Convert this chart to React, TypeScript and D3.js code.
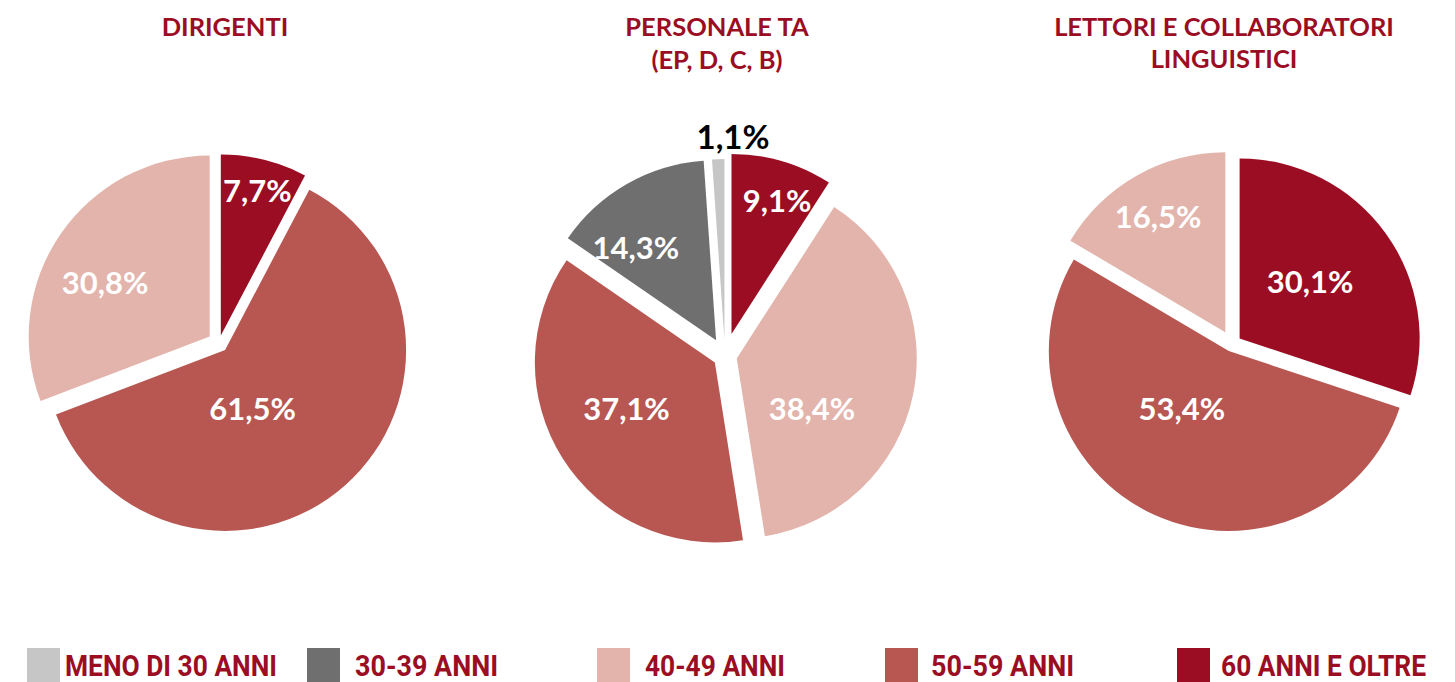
import React from "react";
import * as d3 from "d3";

// ---------- DATA ----------
const LEGEND_CATEGORIES = ["MENO DI 30 ANNI", "30-39 ANNI", "40-49 ANNI", "50-59 ANNI", "60 ANNI E OLTRE"];

const TITLES = [["DIRIGENTI"], ["PERSONALE TA", "(EP, D, C, B)"], ["LETTORI E COLLABORATORI", "LINGUISTICI"]];

const DIRIGENTI_CATS = ["60 ANNI E OLTRE", "50-59 ANNI", "40-49 ANNI"];
const DIRIGENTI_VALUES = [7.7, 61.5, 30.8];

const PERSONALE_CATS = ["60 ANNI E OLTRE", "40-49 ANNI", "50-59 ANNI", "30-39 ANNI", "MENO DI 30 ANNI"];
const PERSONALE_VALUES = [9.1, 38.4, 37.1, 14.3, 1.1];

const LETTORI_CATS = ["60 ANNI E OLTRE", "50-59 ANNI", "40-49 ANNI"];
const LETTORI_VALUES = [30.1, 53.4, 16.5];

// ---------- STYLE / LAYOUT ----------
const COLOR: Record<string, string> = {
  "MENO DI 30 ANNI": "#c6c6c6",
  "30-39 ANNI": "#6f6f6f",
  "40-49 ANNI": "#e2b4ac",
  "50-59 ANNI": "#b85752",
  "60 ANNI E OLTRE": "#9b0d23",
};
const TITLE_COLOR = "#9b0d23";
const W = 1455;
const H = 682;

const PIE_LAYOUT = [
  {
    cx: 219, cy: 343, r: 181,
    explode: [7.6, 9.2, 11.3],
    labels: [[157, 14.1], [74, 153], [129, 298]],
    titleX: 225, titleY: [36],
  },
  {
    cx: 725, cy: 356, r: 180,
    explode: [23, 12, 12, 18, 17],
    labels: [[164, 18.5], [102, 121.5], [112, 241.6], [140, 320.4], [219, 2.1]],
    titleX: 717, titleY: [36, 69],
  },
  {
    cx: 1232, cy: 344, r: 180,
    explode: [9.4, 7.7, 13.5],
    labels: [[100, 51.3], [82, 217.7], [147, 329.8]],
    titleX: 1224, titleY: [36, 68],
  },
];

const LEGEND_X = [27, 307, 597, 885, 1177];
const LEGEND_TEXT_X = [65, 355, 645, 931, 1221];
const LEGEND_TEXT_W = [212, 143, 140, 143, 205];

const PIE_DATA = [
  { cats: DIRIGENTI_CATS, values: DIRIGENTI_VALUES },
  { cats: PERSONALE_CATS, values: PERSONALE_VALUES },
  { cats: LETTORI_CATS, values: LETTORI_VALUES },
];

const fmt = (v: number) => v.toFixed(1).replace(".", ",") + "%";
const LABEL_FONT = "Lato, 'Open Sans', sans-serif";

function Pie({ idx }: { idx: number }) {
  const { cats, values } = PIE_DATA[idx];
  const L = PIE_LAYOUT[idx];
  const pie = d3.pie<number>().sort(null).value((d) => d);
  const arcs = pie(values);
  const arc = d3.arc<d3.PieArcDatum<number>>().innerRadius(0).outerRadius(L.r);
  const rad = Math.PI / 180;
  return (
    <g>
      {TITLES[idx].map((t, i) => (
        <text key={i} x={L.titleX} y={L.titleY[i]} textAnchor="middle" fill={TITLE_COLOR}
          fontFamily={LABEL_FONT} fontWeight={700} fontSize={25.5}>{t}</text>
      ))}
      {arcs.map((a, i) => {
        const mid = (a.startAngle + a.endAngle) / 2;
        const d = L.explode[i];
        const dx = L.cx + d * Math.sin(mid);
        const dy = L.cy - d * Math.cos(mid);
        return <path key={i} d={arc(a) || ""} transform={`translate(${dx},${dy})`} fill={COLOR[cats[i]]} />;
      })}
      {arcs.map((a, i) => {
        const [lr, la] = L.labels[i];
        const x = L.cx + lr * Math.sin(la * rad);
        const y = L.cy - lr * Math.cos(la * rad);
        const small = values[i] < 2;
        return (
          <text key={"l" + i} x={x} y={y} dy="0.36em" textAnchor="middle"
            fill={small ? "#000" : "#fff"} fontFamily={LABEL_FONT} fontWeight={700}
            fontSize={small ? 33 : 31}>{fmt(values[i])}</text>
        );
      })}
    </g>
  );
}

export default function App() {
  return (
    <svg width={W} height={H} viewBox={`0 0 ${W} ${H}`}
      style={{ position: "absolute", left: 0, top: 0, background: "#fff" }}>
      <rect x={0} y={0} width={W} height={H} fill="#fff" />
      {PIE_LAYOUT.map((_, i) => <Pie key={i} idx={i} />)}
      {LEGEND_CATEGORIES.map((c, i) => (
        <g key={c}>
          <rect x={LEGEND_X[i]} y={648} width={33} height={40} fill={COLOR[c]} />
          <text x={LEGEND_TEXT_X[i]} y={676} fill={TITLE_COLOR} fontFamily="Roboto, sans-serif"
            fontWeight={700} fontSize={29} textLength={LEGEND_TEXT_W[i]} lengthAdjust="spacingAndGlyphs">{c}</text>
        </g>
      ))}
    </svg>
  );
}
